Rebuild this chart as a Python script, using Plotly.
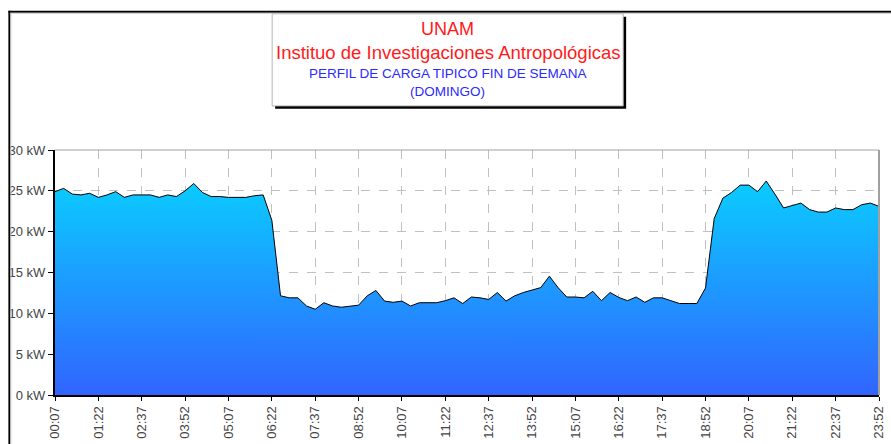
import plotly.graph_objects as go

times = [
    "00:07","00:22","00:37","00:52","01:07","01:22","01:37","01:52","02:07","02:22",
    "02:37","02:52","03:07","03:22","03:37","03:52","04:07","04:22","04:37","04:52",
    "05:07","05:22","05:37","05:52","06:07","06:22","06:37","06:52","07:07","07:22",
    "07:37","07:52","08:07","08:22","08:37","08:52","09:07","09:22","09:37","09:52",
    "10:07","10:22","10:37","10:52","11:07","11:22","11:37","11:52","12:07","12:22",
    "12:37","12:52","13:07","13:22","13:37","13:52","14:07","14:22","14:37","14:52",
    "15:07","15:22","15:37","15:52","16:07","16:22","16:37","16:52","17:07","17:22",
    "17:37","17:52","18:07","18:22","18:37","18:52","19:07","19:22","19:37","19:52",
    "20:07","20:22","20:37","20:52","21:07","21:22","21:37","21:52","22:07","22:22",
    "22:37","22:52","23:07","23:22","23:37","23:52",
]

kw = [
    24.9, 25.3, 24.6, 24.5, 24.7, 24.2, 24.5, 24.9, 24.2, 24.5,
    24.5, 24.5, 24.2, 24.5, 24.3, 25.0, 25.9, 24.8, 24.3, 24.3,
    24.2, 24.2, 24.2, 24.4, 24.5, 21.4, 12.15, 11.9, 11.9, 10.9,
    10.5, 11.3, 10.9, 10.75, 10.9, 11.0, 12.15, 12.8, 11.5, 11.35,
    11.5, 10.9, 11.3, 11.3, 11.3, 11.55, 11.9, 11.2, 12.0, 11.9,
    11.7, 12.55, 11.5, 12.15, 12.55, 12.85, 13.15, 14.55, 13.15, 12.0,
    12.0, 11.9, 12.7, 11.55, 12.55, 11.95, 11.55, 12.0, 11.35, 11.9,
    11.9, 11.55, 11.2, 11.2, 11.2, 13.1, 21.6, 24.1, 24.8, 25.7,
    25.7, 24.9, 26.2, 24.6, 22.9, 23.2, 23.5, 22.7, 22.4, 22.4,
    22.9, 22.7, 22.7, 23.3, 23.5, 23.1,
]

y_ticks = [0, 5, 10, 15, 20, 25, 30]
y_tick_labels = ["0 kW", "5 kW", "10 kW", "15 kW", "20 kW", "25 kW", "30 kW"]

title_line1 = "UNAM"
title_line2 = "Instituo de Investigaciones Antropológicas"
title_line3 = "PERFIL DE CARGA TIPICO FIN DE SEMANA"
title_line4 = "(DOMINGO)"

x_idx = list(range(len(times)))
x_tick_idx = x_idx[::5]
x_tick_text = times[::5]

W, H = 891, 444
# plot area in pixels
SX0, SX1, SY0, SY1 = 55, 886, 150, 400
ML, MR = SX0, W - SX1
MT, MB = SY0, H - SY1
PW = W - ML - MR
PH = H - MT - MB

def px(sx):
    return (sx - SX0) / PW

def py(sy):
    return (SY1 - sy) / PH

fig = go.Figure()
fig.add_trace(go.Scatter(
    x=x_idx, y=kw, mode="lines",
    line=dict(color="black", width=1),
    fill="tozeroy",
    fillgradient=dict(type="vertical", start=0, stop=26,
                      colorscale=[[0, "#3262FF"], [1, "#0BCBFF"]]),
    hoverinfo="skip",
))

shapes = []
# outer chart-area frame (top and left visible)
shapes.append(dict(type="line", xref="paper", yref="paper",
                   x0=px(8), x1=px(900), y0=py(9), y1=py(9),
                   line=dict(color="black", width=2)))
shapes.append(dict(type="line", xref="paper", yref="paper",
                   x0=px(9), x1=px(9), y0=py(8), y1=py(460),
                   line=dict(color="black", width=2)))
shapes.append(dict(type="line", xref="paper", yref="paper",
                   x0=px(10), x1=px(900), y0=py(10.5), y1=py(10.5),
                   line=dict(color="#c8c8c8", width=1)))
shapes.append(dict(type="line", xref="paper", yref="paper",
                   x0=px(10.5), x1=px(10.5), y0=py(10), y1=py(460),
                   line=dict(color="#c8c8c8", width=1)))
# title box shadow + box
shapes.append(dict(type="rect", xref="paper", yref="paper",
                   x0=px(277), x1=px(631), y0=py(14), y1=py(108),
                   fillcolor="black", line=dict(width=0)))
shapes.append(dict(type="rect", xref="paper", yref="paper",
                   x0=px(274), x1=px(628), y0=py(11), y1=py(105),
                   fillcolor="white", line=dict(color="#b4b4b4", width=1)))
# plot border top/right
shapes.append(dict(type="line", xref="paper", yref="paper",
                   x0=0, x1=1, y0=1, y1=1, line=dict(color="#a0a0a0", width=1)))
shapes.append(dict(type="line", xref="paper", yref="paper",
                   x0=1, x1=1, y0=0, y1=1, line=dict(color="#a0a0a0", width=2)))

def title_ann(text, sx, sy, size, color):
    return dict(text=text, xref="paper", yref="paper", x=px(sx), y=py(sy),
                xanchor="center", yanchor="middle", showarrow=False,
                font=dict(family="Liberation Sans", size=size, color=color))

annotations = [
    title_ann(title_line1, 451, 27, 18, "#ff1a1a"),
    title_ann(title_line2, 452, 50, 18.5, "#ff1a1a"),
    title_ann(title_line3, 451, 72, 13.5, "#2a2aff"),
    title_ann(title_line4, 451, 90, 13.5, "#2a2aff"),
]

fig.update_layout(
    width=W, height=H,
    margin=dict(l=ML, r=MR, t=MT, b=MB),
    paper_bgcolor="white", plot_bgcolor="white",
    showlegend=False,
    shapes=shapes, annotations=annotations,
    font=dict(family="Liberation Sans", size=13, color="#444444"),
)
fig.update_xaxes(
    range=[0, len(times) - 1],
    tickmode="array", tickvals=x_tick_idx, ticktext=x_tick_text,
    tickangle=-90, ticks="outside", ticklen=4, tickcolor="black",
    ticklabeloverflow="allow",
    showline=True, linecolor="black", linewidth=2,
    showgrid=True, gridcolor="#c0c0c0", griddash="dash", gridwidth=1,
    zeroline=False, tickfont=dict(size=13, color="#444444"),
)
fig.update_yaxes(
    range=[0, 30],
    tickmode="array", tickvals=y_ticks, ticktext=y_tick_labels,
    ticks="outside", ticklen=5, tickcolor="black",
    showline=True, linecolor="black", linewidth=2,
    showgrid=True, gridcolor="#c0c0c0", griddash="dash", gridwidth=1,
    zeroline=False, tickfont=dict(size=13, color="#444444"),
)

fig.write_html(
    "out.html",
    config={"displayModeBar": False, "staticPlot": True},
    post_script="document.body.style.margin='0';document.body.style.overflow='hidden';",
)
